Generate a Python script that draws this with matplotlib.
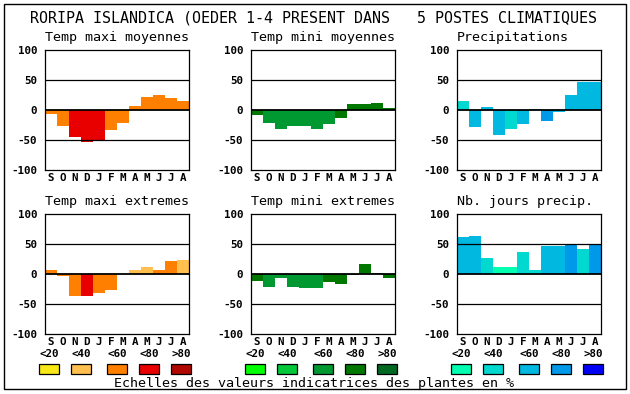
import matplotlib
matplotlib.use("Agg")
import matplotlib.pyplot as plt
from matplotlib.patches import Rectangle

W, H = 630, 394
MONO = "DejaVu Sans Mono"

title = "RORIPA ISLANDICA (OEDER 1-4 PRESENT DANS   5 POSTES CLIMATIQUES"
months = ["S", "O", "N", "D", "J", "F", "M", "A", "M", "J", "J", "A"]
yticks = [100, 50, 0, -50, -100]
ytick_labels = ["100", "50", "0", "-50", "-100"]
legend_labels = ["<20", "<40", "<60", "<80", ">80"]

warm = ["#f8e818", "#ffc050", "#ff8000", "#e80000", "#b00800"]
green = ["#00ff00", "#00c838", "#009830", "#007800", "#006820"]
blue = ["#00ffb0", "#00d8d0", "#00b8e0", "#0098e8", "#0000f8"]

panel_titles = ["Temp maxi moyennes", "Temp mini moyennes", "Precipitations",
                "Temp maxi extremes", "Temp mini extremes", "Nb. jours precip."]

tmax_moy = [-6, -26, -45, -54, -52, -34, -21, 7, 22, 25, 20, 15]
tmax_moy_cls = [2, 2, 3, 3, 3, 2, 2, 2, 2, 2, 2, 2]
tmin_moy = [-8, -21, -31, -26, -26, -31, -23, -14, 10, 10, 12, 3]
tmin_moy_cls = [3, 2, 2, 2, 2, 2, 2, 3, 3, 3, 3, 3]
precip = [15, -28, 5, -41, -31, -24, 2, -18, -4, 25, 47, 47]
precip_cls = [1, 2, 2, 2, 1, 2, 2, 3, 2, 2, 2, 2]
tmax_ext = [6, -3, -36, -36, -31, -27, 0, 7, 12, 7, 21, 24]
tmax_ext_cls = [2, 2, 2, 3, 2, 2, 2, 1, 1, 2, 2, 1]
tmin_ext = [-12, -22, -7, -21, -24, -24, -14, -17, -2, 16, 2, -7]
tmin_ext_cls = [3, 2, 2, 2, 2, 2, 3, 3, 3, 3, 3, 3]
jours = [62, 64, 26, 11, 11, 36, 7, 46, 47, 50, 42, 50]
jours_cls = [2, 2, 1, 0, 0, 1, 1, 2, 2, 3, 1, 3]

series = [(tmax_moy, tmax_moy_cls, warm), (tmin_moy, tmin_moy_cls, green),
          (precip, precip_cls, blue), (tmax_ext, tmax_ext_cls, warm),
          (tmin_ext, tmin_ext_cls, green), (jours, jours_cls, blue)]

fig = plt.figure(figsize=(W / 100, H / 100), dpi=100)
fig.patch.set_facecolor("white")

def fx(x):
    return x / W

def fy(y):
    return 1 - y / H

lefts = [45, 251, 457]
tops = [50, 214]
aw, ah = 144, 120

for i, (vals, cls, pal) in enumerate(series):
    r, c = divmod(i, 3)
    l, t = lefts[c], tops[r]
    ax = fig.add_axes([fx(l), fy(t + ah), aw / W, ah / H])
    ax.bar(range(12), vals, width=1.0, color=[pal[k] for k in cls],
           edgecolor="none", zorder=2)
    for yv in (50, -50):
        ax.axhline(yv, color="black", lw=0.9, zorder=3)
    ax.axhline(0, color="black", lw=1.3, zorder=3)
    ax.set_xlim(-0.5, 11.5)
    ax.set_ylim(-100, 100)
    ax.set_yticks(yticks)
    ax.set_yticklabels(ytick_labels, fontfamily=MONO, fontweight="bold", fontsize=7.8)
    ax.set_xticks(range(12))
    ax.set_xticklabels(months, fontfamily=MONO, fontweight="bold", fontsize=7.8)
    ax.tick_params(axis="both", length=0)
    ax.tick_params(axis="y", pad=5.5)
    ax.tick_params(axis="x", pad=2.0)
    for s in ax.spines.values():
        s.set_linewidth(0.9)
        s.set_color("black")
        s.set_zorder(4)
    fig.text(fx(l), fy(t - 12), panel_titles[i], ha="left", va="center",
             fontfamily=MONO, fontsize=9.6)

fig.text(fx(30), fy(18), title, ha="left", va="center", fontfamily=MONO, fontsize=10.8)

centers = [[49, 81, 117, 149, 181], [255, 287, 323, 355, 387], [461, 493, 529, 561, 593]]
pals = [warm, green, blue]
for g in range(3):
    for k in range(5):
        cx = centers[g][k]
        fig.text(fx(cx), fy(354), legend_labels[k], ha="center", va="center",
                 fontfamily=MONO, fontweight="bold", fontsize=7.8)
        fig.add_artist(Rectangle((fx(cx - 10), fy(374)), 20 / W, 10 / H,
                                 transform=fig.transFigure, facecolor=pals[g][k],
                                 edgecolor="black", lw=0.9))

fig.text(fx(314), fy(383), "Echelles des valeurs indicatrices des plantes en %",
         ha="center", va="center", fontfamily=MONO, fontsize=9.6)

fig.add_artist(Rectangle((fx(4), fy(389)), 622 / W, 385 / H, transform=fig.transFigure,
                         facecolor="none", edgecolor="black", lw=1.0))

fig.savefig("out.png", dpi=100)
